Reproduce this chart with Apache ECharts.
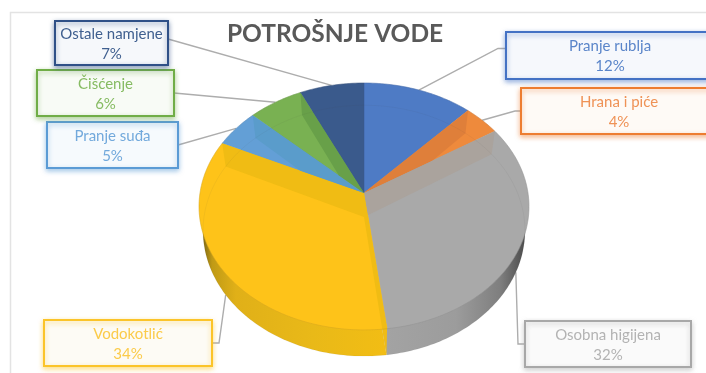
<!DOCTYPE html>
<html>
<head>
<meta charset="utf-8">
<style>html,body{margin:0;padding:0;background:#fff}#c{width:706px;height:373px}</style>
<script src="https://cdn.jsdelivr.net/npm/echarts@6/dist/echarts.min.js"></script>
</head>
<body>
<div id="c"></div>
<script>
// ---- data ----
const chartTitle = 'POTROŠNJE VODE';
const categories = ['Pranje rublja','Hrana i piće','Osobna higijena','Vodokotlić','Pranje suđa','Čišćenje','Ostale namjene'];
const shares = [12,4,32,34,5,6,7];

// ---- styles ----
const topColors  = ['#4e7bc5','#ee8a3c','#a9a9a9','#fec319','#639fd6','#79b152','#3a5a8c'];
const wallColors = ['#4a75bb','#df7f3a','#aaa39d','#f0bc14','#5a9ccb','#68a049','#37568a'];
const borderColors = ['#4472c4','#ed7d31','#a8a8a8','#fbc42a','#5b9bd5','#70ad47','#2f5087'];
const textColors = ['#5a85c9','#ef9256','#b3b3b3','#fbcb4a','#72a9dc','#86bb62','#3f5f8f'];
const boxFills = ['#f6f8fc','#fefaf6','#fafafa','#fdfbf5','#f6fafd','#f8fbf6','#f6f8fb'];
// box: [left, top, width, height]; elbow: optional x of the leader's knee
const boxes = [[506,32,208,47],[521,88,196,46],[525,321,166,46],[44,320,168,46],[47,122,131,46],[37,70,137,46],[55,21,113,44]];
const elbows = [498,515,518,219,null,null,null];
const sideGradients = {
  2:[[0,'#a3a3a3'],[0.5,'#9c9c9c'],[0.82,'#7e7e7e'],[1,'#4a4a4a']],
  3:[[0,'#7f6812'],[0.05,'#c09a15'],[0.18,'#e0b018'],[0.6,'#e9b918'],[1,'#f2bd14']]
};
const gradientExtents = {2:[386,526],3:[203,386]};

// ---- pie geometry (perspective disc) ----
const cx = 364, topCy = 193, baseCy = 217;
const persp = 0.109, depth = 122;
const topR = 164, baseR = 160, baseDepthScale = 1.016;
const total = shares.reduce((a,b)=>a+b,0);
const starts = []; shares.reduce((acc,v,i)=>{starts[i]=acc;return acc+v;},0);
const toTheta = p => p/total*2*Math.PI;
function rimPt(theta){
  const d = 1 + persp*Math.cos(theta);
  return [cx + topR*Math.sin(theta)/d, topCy - depth*Math.cos(theta)/d];
}
function basePt(theta){
  const d = 1 + persp*Math.cos(theta);
  return [cx + baseR*Math.sin(theta)/d, baseCy - depth*baseDepthScale*Math.cos(theta)/d];
}
function arc(fn,a,b){
  const pts=[], n=Math.max(2,Math.ceil((b-a)/0.02));
  for(let i=0;i<=n;i++) pts.push(fn(a+(b-a)*i/n));
  return pts;
}
const apex=[cx,topCy], baseApex=[cx,baseCy];
function clipHalf(poly,a,b,sign){
  const sideOf=p=>sign*((b[0]-a[0])*(p[1]-a[1])-(b[1]-a[1])*(p[0]-a[0]));
  const out=[];
  for(let i=0;i<poly.length;i++){
    const p=poly[i],q=poly[(i+1)%poly.length],sp=sideOf(p),sq=sideOf(q);
    if(sp>=0) out.push(p);
    if((sp>0&&sq<0)||(sp<0&&sq>0)){
      const t=sp/(sp-sq); out.push([p[0]+(q[0]-p[0])*t,p[1]+(q[1]-p[1])*t]);
    }
  }
  return out;
}
const range=i=>[toTheta(starts[i]),toTheta(starts[i]+shares[i])];
const pieData = categories.map((n,i)=>({name:n,value:shares[i]}));
const layer=(z,fn)=>({type:'custom',coordinateSystem:'none',data:pieData,z,silent:true,animation:false,clip:false,renderItem:(p)=>fn(p.dataIndex)});

function leaderEl(i){
  const [a,b]=range(i), mid=(a+b)/2, bx=boxes[i];
  const end = Math.cos(mid)<0 ? basePt(mid) : rimPt(mid);
  const leftSide = bx[0] < cx;
  const pts=[];
  const y0 = i===6 ? bx[1]+18 : bx[1]+bx[3]/2 + (i===0?-7:0);
  pts.push([leftSide?bx[0]+bx[2]:bx[0], y0]);
  if(elbows[i]!=null) pts.push([elbows[i],y0]);
  pts.push(end);
  return {type:'polyline',shape:{points:pts},style:{stroke:'#adadad',lineWidth:1.4,fill:null}};
}
function sideEl(i){
  const [a,b]=range(i);
  const pts=[baseApex].concat(arc(basePt,a,b));
  let fill=wallColors[i];
  if(sideGradients[i]){
    const e=gradientExtents[i];
    fill={type:'linear',global:true,x:e[0],y:0,x2:e[1],y2:0,colorStops:sideGradients[i].map(s=>({offset:s[0],color:s[1]}))};
  }
  return {type:'polygon',shape:{points:pts},style:{fill}};
}
function topEl(i){
  const [a,b]=range(i);
  return {type:'polygon',shape:{points:[apex].concat(arc(rimPt,a,b))},style:{fill:topColors[i],stroke:topColors[i],lineWidth:0.5}};
}
function wallsEl(i){
  const [a,b]=range(i), ra=rimPt(a), rb=rimPt(b);
  const children=[];
  [a,b].forEach(t=>{
    let poly=[apex,rimPt(t),basePt(t),baseApex];
    poly=clipHalf(poly,apex,ra,1);
    poly=clipHalf(poly,apex,rb,-1);
    if(poly.length>2) children.push({type:'polygon',shape:{points:poly},style:{fill:wallColors[i]}});
  });
  return {type:'group',children};
}
function outlinesEl(i){
  const [a,b]=range(i);
  return {type:'group',children:[
    {type:'polyline',shape:{points:arc(basePt,a,b)},style:{stroke:'rgba(60,60,60,0.06)',lineWidth:1,fill:null}},
    {type:'polyline',shape:{points:arc(rimPt,a,b)},style:{stroke:'rgba(60,60,60,0.14)',lineWidth:0.8,fill:null}}
  ]};
}
function boxEl(i){
  const b=boxes[i];
  return {type:'group',children:[
    {type:'rect',shape:{x:b[0],y:b[1],width:b[2],height:b[3]},
     style:{fill:boxFills[i],stroke:borderColors[i],lineWidth:2,shadowBlur:5,shadowOffsetY:2,shadowColor:borderColors[i]+'88'}},
    {type:'text',style:{x:b[0]+b[2]/2,y:b[1]+b[3]/2+1,text:categories[i]+'\n'+shares[i]+'%',align:'center',verticalAlign:'middle',
      fill:textColors[i],font:'15px Lato',lineHeight:20}}
  ]};
}

const chart=echarts.init(document.getElementById('c'),null,{renderer:'canvas'});
chart.setOption({
  animation:false,
  backgroundColor:'#fff',
  title:{text:chartTitle,left:330,top:17,textAlign:'center',textStyle:{fontFamily:'Lato',fontSize:24.5,fontWeight:'bold',color:'#595959'}},
  graphic:[{type:'polyline',z:0,shape:{points:[[706,12.5],[10.5,12.5],[10.5,373]]},style:{stroke:'#e3e3e3',lineWidth:1.5,fill:null}}],
  series:[layer(1,leaderEl),layer(2,sideEl),layer(3,topEl),layer(4,wallsEl),layer(5,outlinesEl),layer(6,boxEl)]
});
</script>
</body>
</html>
